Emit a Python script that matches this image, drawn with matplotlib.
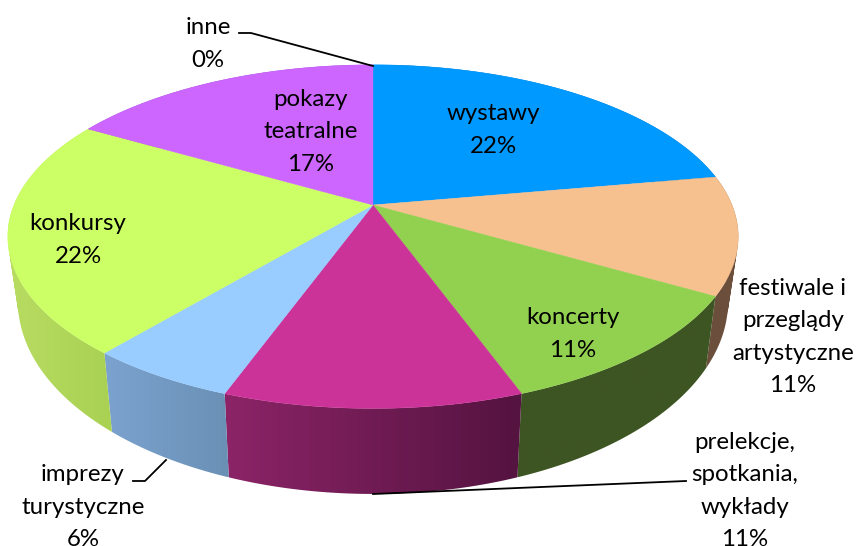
import numpy as np
from matplotlib import pyplot as plt
from matplotlib.colors import to_rgb
from matplotlib.patches import PathPatch
from matplotlib.path import Path

plt.rcParams['font.family'] = ['Lato', 'DejaVu Sans']

# dane
kategorie = ["wystawy", "festiwale i\nprzeglądy\nartystyczne", "koncerty",
             "prelekcje,\nspotkania,\nwykłady", "imprezy\nturystyczne",
             "konkursy", "pokazy\nteatralne", "inne"]
wartosci = [22.22, 11.11, 11.11, 11.11, 5.56, 22.22, 16.67, 0.0]

# kolory: wierzch i bok (lewa i prawa strona gradientu)
kolory = ["#0099ff", "#f6c08f", "#92d050", "#cc3399", "#99ccff", "#ccff66", "#cc66ff", "#999999"]
bok_lewy = ["#005c99", "#6b4f3c", "#3d5522", "#8c2467", "#7ba3cf", "#b8dc62", "#7a3d99", "#999999"]
bok_prawy = ["#005c99", "#6b4f3c", "#3d5522", "#541340", "#6a90b5", "#a9d152", "#7a3d99", "#999999"]

# pozycje etykiet (środek tekstu w pikselach)
etykiety_x = [493, 793, 573, 745, 83, 78, 311, 208]
etykiety_y = [130, 337, 334, 491, 507, 240, 132, 44]

# perspektywa: wierzch i dół walca
CX = 373
GORA = dict(cy=205, r=359, a=166, k=0.184)
DOL = dict(cy=266, r=349, a=186, k=0.184)


def rzut(kat, p):
    # kat w stopniach od góry, zgodnie z zegarem
    t = np.radians(kat)
    u, v = np.sin(t), np.cos(t)
    s = 1 / (1 + p['k'] * v)
    return CX + p['r'] * u * s, p['cy'] - p['a'] * v * s


def ksztalt_boku(x1, y1, x2, y2):
    # czworokąty o tej samej orientacji, żeby wypełnienie się nie znosiło
    wierzcholki = []
    kody = []
    for j in range(len(x1) - 1):
        q = [(x1[j], y1[j]), (x1[j + 1], y1[j + 1]), (x2[j + 1], y2[j + 1]), (x2[j], y2[j])]
        pole = sum(q[n][0] * q[(n + 1) % 4][1] - q[(n + 1) % 4][0] * q[n][1] for n in range(4))
        if pole < 0:
            q = q[::-1]
        wierzcholki += q + [q[0]]
        kody += [Path.MOVETO, Path.LINETO, Path.LINETO, Path.LINETO, Path.CLOSEPOLY]
    return Path(wierzcholki, kody)


fig = plt.figure(figsize=(8.56, 5.46), dpi=100)
ax = fig.add_axes([0, 0, 1, 1])

katy = np.concatenate([[0], np.cumsum(wartosci)]) / sum(wartosci) * 360

# boki: gradient przycięty do kształtu
for i in range(len(wartosci)):
    if wartosci[i] == 0:
        continue
    th = np.linspace(katy[i], katy[i + 1], 200)
    x1, y1 = rzut(th, GORA)
    x2, y2 = rzut(th, DOL)
    ksztalt = PathPatch(ksztalt_boku(x1, y1, x2, y2), facecolor='none', edgecolor='none')
    ax.add_patch(ksztalt)
    gradient = np.linspace(to_rgb(bok_lewy[i]), to_rgb(bok_prawy[i]), 256)[None, :, :]
    xs = np.r_[x1, x2]
    ys = np.r_[y1, y2]
    obraz = ax.imshow(gradient, extent=[xs.min(), xs.max(), ys.max(), ys.min()], aspect='auto',
                      interpolation='bilinear', zorder=1)
    obraz.set_clip_path(ksztalt)

# wierzch
for i in range(len(wartosci)):
    if wartosci[i] == 0:
        continue
    th = np.linspace(katy[i], katy[i + 1], 200)
    x, y = rzut(th, GORA)
    ax.fill(np.r_[CX, x], np.r_[GORA['cy'], y], color=kolory[i], lw=0.3, zorder=2)

# linie odniesienia
ax.plot([239, 251, 373], [33, 33, 66], color='black', lw=1.3, zorder=3)
ax.plot([373, 686], [494, 481], color='black', lw=1.3, zorder=3)
ax.plot([133, 145, 166], [481, 481, 460], color='black', lw=1.3, zorder=3)

# etykiety
for nazwa, w, x, y in zip(kategorie, wartosci, etykiety_x, etykiety_y):
    ax.text(x, y, f"{nazwa}\n{round(w)}%", ha='center', va='center', fontsize=17.25,
            linespacing=1.65, color='black', clip_on=False, zorder=4)

ax.set_xlim(0, 856)
ax.set_ylim(546, 0)
ax.axis('off')

fig.savefig('out.png', dpi=100)
